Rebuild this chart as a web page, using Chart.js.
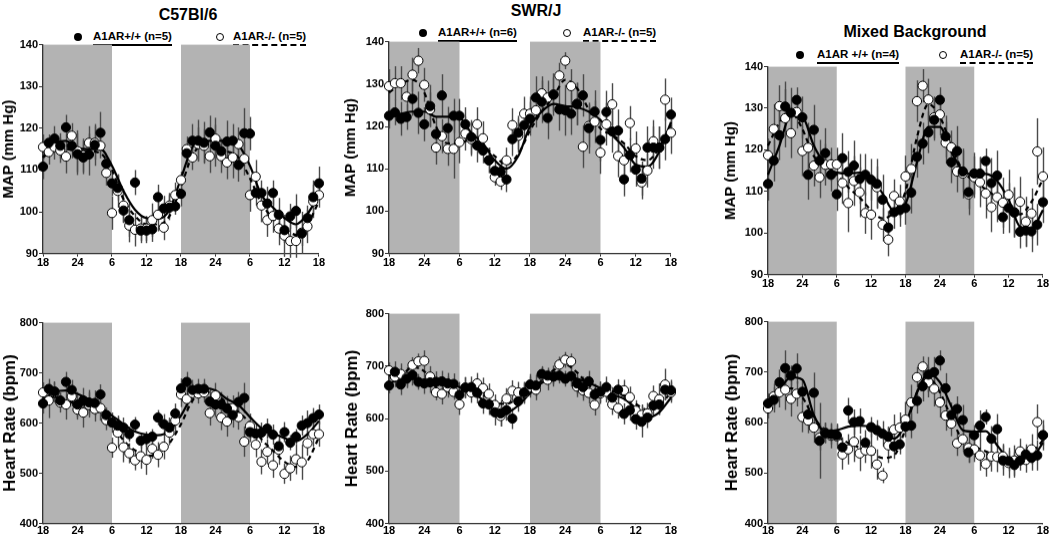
<!DOCTYPE html>
<html><head><meta charset="utf-8">
<script src="https://cdn.jsdelivr.net/npm/chart.js@4.4.1/dist/chart.umd.min.js"></script>
<style>
html,body{margin:0;padding:0;background:#fff;}
body{width:1050px;height:536px;position:relative;overflow:hidden;font-family:"Liberation Sans",Arial,sans-serif;color:#000;}
.wrap{position:absolute;width:300px;height:240px;}
.wrap canvas{display:block;}
.ttl{position:absolute;font-weight:bold;font-size:16px;line-height:18px;white-space:nowrap;transform:translate(-50%,-50%);}
.lg{position:absolute;font-weight:bold;font-size:11.5px;line-height:13px;white-space:nowrap;padding-bottom:1px;}
.solid{border-bottom:2px solid #000;}
.dash{border-bottom:2px dashed #000;}
.mk{position:absolute;width:8px;height:8px;border-radius:50%;box-sizing:border-box;transform:translate(-50%,-50%);}
.mk.f{background:#000;}
.mk.o{background:#fff;border:1px solid #000;}
</style></head><body>

<div class="ttl" style="left:188px;top:15px;">C57Bl/6</div>
<div class="ttl" style="left:536px;top:11px;">SWR/J</div>
<div class="ttl" style="left:915px;top:32px;">Mixed Background</div>

<div class="mk f" style="left:78px;top:37px;"></div>
<div class="lg solid" style="left:93px;top:30px;">A1AR+/+ (n=5)</div>
<div class="mk o" style="left:220px;top:37px;"></div>
<div class="lg dash" style="left:233px;top:30px;">A1AR-/- (n=5)</div>

<div class="mk f" style="left:423px;top:33px;"></div>
<div class="lg solid" style="left:438px;top:26px;">A1AR+/+ (n=6)</div>
<div class="mk o" style="left:567px;top:33px;"></div>
<div class="lg dash" style="left:583px;top:26px;">A1AR-/- (n=5)</div>

<div class="mk f" style="left:800px;top:55px;"></div>
<div class="lg solid" style="left:817px;top:48px;">A1AR +/+ (n=4)</div>
<div class="mk o" style="left:943px;top:55px;"></div>
<div class="lg dash" style="left:960px;top:48px;">A1AR-/- (n=5)</div>

<div class="wrap" id="c1"></div>
<div class="wrap" id="c2"></div>
<div class="wrap" id="c3"></div>
<div class="wrap" id="c4"></div>
<div class="wrap" id="c5"></div>
<div class="wrap" id="c6"></div>

<script>
const FONT = "'Liberation Sans', Arial, sans-serif";
const hours = [0,1,2,3,4,5,6,7,8,9,10,11,12,13,14,15,16,17,18,19,20,21,22,23,24,25,26,27,28,29,30,31,32,33,34,35,36,37,38,39,40,41,42,43,44,45,46,47,48];
const fitHours = [0,2,4,6,8,10,12,14,16,18,20,22,24,26,28,30,32,34,36,38,40,42,44,46,48];
const xTickLabels = ['18','24','6','12','18','24','6','12','18'];
const darkPeriods = [[0,12],[24,36]];

// ---- MAP, C57Bl/6 ----
const mapC57Wt = [110.8,116.5,117.5,115.8,120.2,115.8,113.8,113.0,113.7,116.0,118.9,111.5,106.8,105.7,100.3,98.0,107.0,95.5,95.5,95.8,103.5,100.8,101.0,101.3,104.3,114.0,117.0,117.0,116.5,119.0,115.8,114.5,116.8,117.0,111.2,118.8,118.7,104.5,104.5,102.0,104.5,99.3,95.6,98.9,100.2,94.8,98.5,103.5,106.8];
const mapC57Ko = [115.5,114.3,115.5,114.7,113.2,118.2,114.5,113.5,116.5,116.5,115.8,109.3,99.7,105.0,101.5,96.7,95.7,96.0,96.0,98.0,99.3,96.2,101.5,104.0,107.6,115.0,113.0,116.2,115.8,113.3,117.5,113.3,111.8,113.0,116.2,112.7,104.0,108.4,101.5,98.0,99.0,96.0,94.3,93.0,93.0,95.0,96.5,102.5,104.0];
const mapC57WtErr = [3,2,3,3,3,3,5,4,5,5,5,2,3,3,3,4,3,3,3,3,3,3,3,2,3,3,4,5,5,4,5,3,5,4,4,6,4,3,3,4,3,4,3,3,4,3,3,4,4];
const mapC57KoErr = [3,3,3,3,4,3,5,4,4,4,3,3,4,4,4,4,4,3,3,4,4,3,3,3,2,3,3,4,4,4,5,4,4,5,4,4,4,4,4,4,4,4,5,4,4,5,4,4,3];
const mapC57WtFit = [113,116.5,117,115.3,115,115,111,105,100.5,98.5,98.3,100.5,108,115.5,117,117,117,116,111,104,101,98.5,97,99.5,104];
const mapC57KoFit = [113,115,115,114.5,114.5,114,110,103,99,97,97,99,106,113.5,116,115.5,114.5,113,108,102,98.5,96,94.5,97,102.5];

// ---- MAP, SWR/J ----
const mapSwrWt = [122.5,123.3,121.8,122.2,126.5,123.2,120.5,124.8,118.2,127.3,119.6,122.5,122.5,120.5,117.5,115.5,114.3,112.0,109.5,109.3,107.5,117.0,118.5,120.3,121.8,126.8,125.8,122.0,127.5,124.0,123.8,123.0,125.3,127.3,119.6,123.5,116.8,123.4,118.8,119.0,107.5,113.2,109.8,107.7,115.0,115.0,115.0,117.0,122.8];
const mapSwrKo = [129.5,130.2,130.2,127.0,132.2,135.5,129.8,124.0,115.0,117.7,114.7,114.7,116.3,118.3,117.0,120.5,117.2,112.0,108.0,107.0,112.0,120.3,117.8,123.0,123.0,123.8,127.8,126.8,127.5,132.0,135.5,129.5,125.3,115.2,120.1,121.1,113.8,120.5,125.2,113.0,112.0,120.8,114.8,106.8,109.6,116.5,115.0,126.3,118.5];
const mapSwrWtErr = [3,3,4,3,4,5,4,5,4,5,5,4,4,4,4,4,3,3,3,3,3,4,4,4,4,5,5,5,5,5,6,5,5,5,6,5,5,5,5,5,4,4,4,4,5,5,5,5,4];
const mapSwrKoErr = [4,4,4,4,4,3,4,4,4,4,4,7,5,4,4,4,4,3,2,2,3,4,4,4,4,4,4,4,4,3,2,4,5,5,5,5,5,5,5,5,4,4,4,4,4,5,5,5,5];
const mapSwrWtFit = [122.5,123,123.5,123.5,122.3,122.3,122,118.5,116,112,110,113,120,123.5,125.3,124.8,124.5,123.5,121.5,118,115,111,110.5,114,121];
const mapSwrKoFit = [128,130,131,128,120,116,116,117,115.5,113,111,113.5,119,123.5,127,131,129,124,119.5,118,116,113,112,115,120.5];

// ---- MAP, Mixed background ----
const mapMixWt = [111.8,117.4,123.5,130.4,128.9,132.0,127.8,114.0,124.8,117.4,119.2,114.0,109.3,118.0,114.7,116.2,113.0,114.0,112.8,111.8,108.0,101.3,105.0,105.5,106.0,109.7,118.3,121.5,124.2,127.2,132.0,123.2,117.0,119.7,114.8,109.8,114.3,114.3,117.3,112.0,113.8,103.8,106.0,104.9,100.3,100.6,100.4,102.0,107.4];
const mapMixKo = [118.7,125.0,130.5,127.6,124.0,129.1,119.7,120.5,116.2,113.4,116.4,116.5,116.5,112.0,107.2,112.5,109.8,104.8,104.4,111.0,102.0,98.4,108.9,107.6,113.6,115.4,131.7,135.4,132.1,127.8,128.5,121.7,120.6,114.8,114.3,109.3,113.4,112.2,109.5,106.2,108.6,107.3,109.2,105.0,107.5,102.7,104.7,119.6,113.6];
const mapMixWtErr = [4,5,6,6,6,3,5,6,6,5,6,4,4,6,5,6,6,5,5,6,6,4,4,4,4,5,5,5,5,5,3,5,5,6,5,4,5,4,3,6,6,4,6,6,4,4,5,5,5];
const mapMixKoErr = [4,6,5,7,6,4,6,6,5,5,5,4,4,5,7,6,6,5,6,5,4,4,4,4,5,6,5,4,5,5,5,5,4,5,6,5,5,6,6,6,6,6,6,6,6,6,6,8,7];
const mapMixWtFit = [114,121,128.5,128,121,116.5,114.5,114.3,114.5,113.5,109.5,105.3,107,117,125.5,125.5,119.5,115,114,114.2,112.5,108,101.5,101,105.5];
const mapMixKoFit = [121,126.5,129,125,118.5,116.5,114,111,108.5,105.5,103.5,105,110,123,131,128,121,115,112.5,110.5,108.5,106,104.5,107.5,113];

// ---- Heart rate, C57Bl/6 ----
const hrC57Wt = [639,668,663,645,682,666,637,645,641,640,657,616,601,595,591,578,597,565,568,573,611,598,591,619,669,682,666,668,668,643,637,637,629,616,642,650,582,579,581,589,577,554,582,561,573,595,600,610,617];
const hrC57Ko = [661,645,661,641,637,653,627,621,636,628,630,606,551,581,552,540,526,534,527,549,537,553,581,605,657,648,660,659,661,620,655,611,603,630,612,563,594,557,523,543,516,547,499,510,528,522,560,578,578];
const hrC57WtErr = [20,20,20,15,20,20,25,25,25,25,20,15,20,20,20,15,15,15,15,15,15,20,20,20,20,20,20,20,20,25,25,25,25,25,20,30,20,20,20,20,20,15,20,15,15,20,25,20,20];
const hrC57KoErr = [20,35,20,20,30,20,20,30,25,25,25,20,20,30,30,20,20,25,30,20,25,25,25,25,25,25,20,20,20,25,25,25,30,25,25,30,25,25,25,25,25,30,20,25,30,35,25,25,25];
const hrC57WtFit = [645,662,665,658,647,632,615,598,583,577,576,585,615,655,670,665,648,636,612,590,580,570,564,578,604];
const hrC57KoFit = [652,652,645,637,630,620,598,566,546,535,537,560,598,645,662,658,640,622,600,568,545,523,513,525,572];

// ---- Heart rate, SWR/J ----
const hrSwrWt = [663,689,665,676,683,670,667,669,670,671,667,666,645,659,660,649,629,627,612,610,616,600,633,650,665,663,685,682,680,682,676,681,667,660,671,646,651,660,640,655,609,616,599,594,602,625,627,655,654];
const hrSwrKo = [692,680,685,678,702,709,710,680,650,647,660,651,627,659,650,667,658,647,626,605,638,653,650,648,660,655,683,674,681,703,712,709,661,654,649,626,648,651,627,620,654,641,615,607,610,643,637,665,650];
const hrSwrWtErr = [15,20,20,15,20,15,20,20,20,20,20,20,25,20,20,20,20,20,25,25,20,20,20,20,20,20,15,15,15,15,15,20,20,20,20,20,20,20,20,20,20,20,20,30,20,20,20,20,20];
const hrSwrKoErr = [15,20,20,20,15,15,20,20,15,20,20,15,20,20,20,20,20,20,20,20,20,20,20,20,20,20,15,20,20,15,15,15,20,20,20,20,20,20,20,20,20,20,20,20,20,20,30,30,20];
const hrSwrWtFit = [668,674,676,672,670,668,660,650,636,617,612,625,648,668,678,680,676,668,658,646,638,620,602,612,640];
const hrSwrKoFit = [682,683,698,690,660,650,652,652,645,630,628,640,656,672,692,703,688,664,653,652,643,628,617,625,650];

// ---- Heart rate, Mixed background ----
const hrMixWt = [638,645,680,708,693,707,661,616,659,564,579,577,575,551,624,601,603,560,591,585,578,572,553,557,592,594,643,672,695,700,723,668,615,627,605,541,575,594,611,568,587,525,524,516,525,537,530,535,575];
const hrMixKo = [628,652,660,665,647,657,611,604,590,570,580,574,573,537,547,562,539,545,544,517,495,555,586,590,606,640,690,711,680,667,640,614,598,559,567,550,547,535,518,533,532,533,520,525,543,526,547,601,575];
const hrMixWtErr = [20,25,25,35,20,30,25,20,40,75,20,20,20,20,25,25,25,25,20,20,25,20,25,20,20,25,25,30,35,30,20,30,25,25,30,20,20,30,15,25,30,30,20,25,20,20,25,30,20];
const hrMixKoErr = [20,25,30,40,35,25,30,25,30,25,20,25,25,30,30,40,35,25,35,30,15,35,30,30,35,35,20,20,30,35,30,30,25,25,25,30,25,30,25,30,30,25,30,30,25,25,30,35,30];
const hrMixWtFit = [640,665,690,685,615,582,585,592,594,591,580,568,598,660,697,680,632,585,582,583,555,528,520,528,560];
const hrMixKoFit = [632,655,668,650,610,585,572,560,550,540,530,535,588,660,688,660,610,565,553,543,533,527,527,540,565];

const panels = [
  {el:'c1', box:{left:43,top:45,right:319,bottom:253}, xTick:3, yMin:90, yMax:140, yStep:10, yTitle:'MAP (mm Hg)', tSize:15, yW:43,
   wt:mapC57Wt, ko:mapC57Ko, wtErr:mapC57WtErr, koErr:mapC57KoErr, wtFit:mapC57WtFit, koFit:mapC57KoFit},
  {el:'c2', box:{left:389,top:42,right:671,bottom:253}, xTick:3, yMin:90, yMax:140, yStep:10, yTitle:'MAP (mm Hg)', tSize:15, yW:47,
   wt:mapSwrWt, ko:mapSwrKo, wtErr:mapSwrWtErr, koErr:mapSwrKoErr, wtFit:mapSwrWtFit, koFit:mapSwrKoFit},
  {el:'c3', box:{left:768,top:67,right:1043,bottom:274}, xTick:3, yMin:90, yMax:140, yStep:10, yTitle:'MAP (mm Hg)', tSize:15, yW:46,
   wt:mapMixWt, ko:mapMixKo, wtErr:mapMixWtErr, koErr:mapMixKoErr, wtFit:mapMixWtFit, koFit:mapMixKoFit},
  {el:'c4', box:{left:43,top:323,right:319,bottom:523}, xTick:1, yMin:400, yMax:800, yStep:100, yTitle:'Heart Rate (bpm)', tSize:17, yW:43,
   wt:hrC57Wt, ko:hrC57Ko, wtErr:hrC57WtErr, koErr:hrC57KoErr, wtFit:hrC57WtFit, koFit:hrC57KoFit},
  {el:'c5', box:{left:389,top:314,right:671,bottom:523}, xTick:1, yMin:400, yMax:800, yStep:100, yTitle:'Heart Rate (bpm)', tSize:17, yW:47,
   wt:hrSwrWt, ko:hrSwrKo, wtErr:hrSwrWtErr, koErr:hrSwrKoErr, wtFit:hrSwrWtFit, koFit:hrSwrKoFit},
  {el:'c6', box:{left:768,top:322,right:1043,bottom:523}, xTick:1, yMin:400, yMax:800, yStep:100, yTitle:'Heart Rate (bpm)', tSize:17, yW:46,
   wt:hrMixWt, ko:hrMixKo, wtErr:hrMixWtErr, koErr:hrMixKoErr, wtFit:hrMixWtFit, koFit:hrMixKoFit}
];

const bandsAndErrors = {
  id:'bandsAndErrors',
  beforeDraw(chart){
    const {ctx, chartArea:a, scales:{x}} = chart;
    ctx.save();
    ctx.fillStyle = '#b3b3b3';
    darkPeriods.forEach(([s,e])=>{
      const x0 = x.getPixelForValue(s), x1 = x.getPixelForValue(e);
      ctx.fillRect(x0, a.top, x1-x0, a.bottom-a.top);
    });
    ctx.restore();
  },
  beforeDatasetsDraw(chart){
    const {ctx, scales:{x,y}} = chart;
    ctx.save();
    ctx.strokeStyle = '#4a4a4a';
    ctx.lineWidth = 1.4;
    chart.data.datasets.forEach(ds=>{
      if(!ds.errors) return;
      ds.data.forEach((p,i)=>{
        const e = ds.errors[i];
        const px = Math.round(x.getPixelForValue(p.x))+0.5;
        ctx.beginPath();
        ctx.moveTo(px, y.getPixelForValue(p.y-e));
        ctx.lineTo(px, y.getPixelForValue(p.y+e));
        ctx.stroke();
      });
    });
    ctx.restore();
  }
};

function buildPanel(p){
  const wrap = document.getElementById(p.el);
  const canvas = document.createElement('canvas');
  wrap.appendChild(canvas);
  const pts = (vals)=>vals.map((v,i)=>({x:hours[i], y:v}));
  const fit = (vals)=>vals.map((v,i)=>({x:fitHours[i], y:v}));
  const tickFont = {family:FONT, size:11, weight:'bold'};
  const chart = new Chart(canvas, {
    type:'scatter',
    data:{datasets:[
      {label:'fit +/+', data:fit(p.wtFit), showLine:true, borderColor:'#000', borderWidth:2.2, pointRadius:0, cubicInterpolationMode:'monotone', order:4, clip:false},
      {label:'fit -/-', data:fit(p.koFit), showLine:true, borderColor:'#000', borderWidth:2.2, borderDash:[5,4], pointRadius:0, cubicInterpolationMode:'monotone', order:3, clip:false},
      {label:'A1AR-/-', data:pts(p.ko), errors:p.koErr, pointRadius:4.6, pointBackgroundColor:'#fff', pointBorderColor:'#000', pointBorderWidth:1, order:2, clip:false},
      {label:'A1AR+/+', data:pts(p.wt), errors:p.wtErr, pointRadius:4.6, pointBackgroundColor:'#000', pointBorderColor:'#000', pointBorderWidth:1, order:1, clip:false}
    ]},
    options:{
      responsive:true, maintainAspectRatio:false, animation:false, devicePixelRatio:1, events:[],
      layout:{padding:{top:2,right:0,bottom:0,left:0}},
      plugins:{legend:{display:false}, tooltip:{enabled:false}, title:{display:false}},
      scales:{
        x:{type:'linear', min:0, max:48,
           ticks:{stepSize:6, autoSkip:false, maxRotation:0, padding:0, color:'#000', font:tickFont,
                  callback:(v)=>{const k=Math.round(v/6); return (Math.abs(v-k*6)<1e-6 && xTickLabels[k]!==undefined)?xTickLabels[k]:'';}},
           grid:{drawOnChartArea:false, drawTicks:true, tickLength:p.xTick, color:'#333', lineWidth:1},
           border:{display:true, color:'#333', width:1.3},
           afterFit:(s)=>{s.height = 17;}},
        y:{min:p.yMin, max:p.yMax,
           ticks:{stepSize:p.yStep, padding:1, color:'#000', font:tickFont},
           grid:{drawOnChartArea:false, drawTicks:true, tickLength:4, color:'#333', lineWidth:1},
           border:{display:true, color:'#333', width:1.3},
           title:{display:true, text:p.yTitle, color:'#000', padding:0, font:{family:FONT, size:p.tSize, weight:'bold'}},
           afterFit:(s)=>{s.width = p.yW;}}
      }
    },
    plugins:[bandsAndErrors]
  });
  for(let k=0;k<3;k++){
    const a = chart.chartArea;
    const padL=a.left, padT=a.top, padR=chart.width-a.right, padB=chart.height-a.bottom;
    const t = p.box;
    wrap.style.left=(t.left-padL)+'px';
    wrap.style.top=(t.top-padT)+'px';
    wrap.style.width=(t.right-t.left+padL+padR)+'px';
    wrap.style.height=(t.bottom-t.top+padT+padB)+'px';
    chart.resize();
  }
}
panels.forEach(buildPanel);
</script>
</body></html>
